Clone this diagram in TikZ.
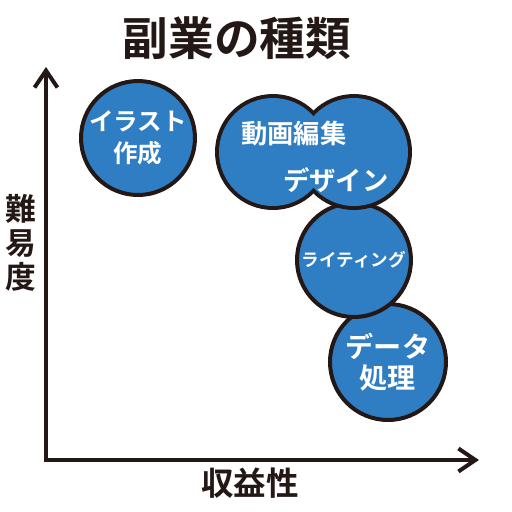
\documentclass[tikz,border=0pt]{standalone}
\usepackage{fontspec}
\setmainfont{Noto Sans CJK JP}[BoldFont={Noto Sans CJK JP Bold}]
\usetikzlibrary{arrows.meta,positioning}
\definecolor{ink}{RGB}{35,24,21}
\definecolor{bubblue}{RGB}{47,125,194}

\begin{document}
\begin{tikzpicture}[
    x=0.02cm, y=-0.02cm,
    bubble/.style={circle, draw=ink, fill=bubblue, line width=0.08cm, inner sep=0pt, outer sep=0pt, text=white, align=center},
    axis/.style={draw=ink, line width=0.08cm, line join=miter,
        {Straight Barb[length=0.34cm, width=0.46cm]}-{Straight Barb[length=0.34cm, width=0.46cm]}},
    lbl/.style={text=white, font=\bfseries\fontsize{15}{18}\selectfont},
    axlbl/.style={text=ink, align=center, font=\bfseries\fontsize{17.5}{19.5}\selectfont}
]
\useasboundingbox (0,0) rectangle (512,512);

\node[text=ink, font=\bfseries\fontsize{26}{30}\selectfont] (title) at (237,38) {副業の種類};

% axes
\coordinate (origin) at (46,460);
\coordinate (ytip) at (46,67);
\coordinate (xtip) at (479,460);
\draw[axis] (xtip) -- (origin) -- (ytip);
\node[axlbl] (ylab) at (21,243) {難\\易\\度};
\node[axlbl, font=\bfseries\fontsize{18.5}{20}\selectfont] (xlab) at (250,483) {収益性};

% bubbles, back to front
\node[bubble, minimum size=2.32cm, font=\bfseries\fontsize{16}{17.5}\selectfont] (data) at (388,362) {データ\\処理};
\node[bubble, minimum size=2.28cm, font=\bfseries\fontsize{10}{12}\selectfont] (writing) at (354,260) {ライティング};
% two circles merged: thick outline, then fill over the inner arcs
\node[bubble, minimum size=2.16cm, line width=0.16cm] (dougaL) at (273,152) {};
\node[bubble, minimum size=2.16cm, line width=0.16cm] (dougaR) at (354,152) {};
\fill[bubblue] (dougaL.center) circle[radius=54] (dougaR.center) circle[radius=54];
\node[lbl] (douga) at (294,134) {動画編集};
\node[lbl] (design) at (336,180) {デザイン};
\node[bubble, minimum size=2.28cm, font=\bfseries\fontsize{14}{18}\selectfont] (illust) at (138,138) {イラスト\\作成};
\end{tikzpicture}
\end{document}
